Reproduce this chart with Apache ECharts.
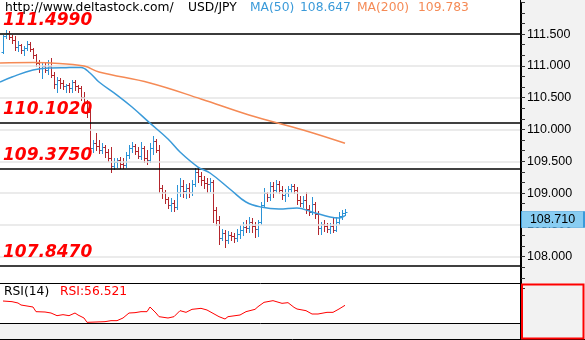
<!DOCTYPE html>
<html><head><meta charset="utf-8">
<script src="https://cdn.jsdelivr.net/npm/echarts@6/dist/echarts.min.js"></script>
<style>html,body{margin:0;padding:0;background:#fff}#c{width:585px;height:340px}</style>
</head><body><div id="c"></div>
<script>
// ---- data ----
const barOpen = [
111.218,111.470,111.517,111.454,111.407,111.297,111.329,111.250,111.281,111.344,
111.266,111.171,111.046,110.967,110.998,110.935,110.998,110.857,110.715,110.778,
110.731,110.684,110.700,110.652,110.747,110.684,110.652,110.511,110.417,110.275,
109.709,109.788,109.740,109.678,109.725,109.646,109.552,109.426,109.489,109.520,
109.457,109.442,109.599,109.709,109.740,109.662,109.583,109.709,109.552,109.520,
109.709,109.819,109.678,109.080,109.017,108.907,108.813,108.844,108.781,109.017,
109.112,109.033,109.080,109.017,109.143,109.332,109.269,109.206,109.159,109.143,
109.174,108.734,108.577,108.294,108.373,108.263,108.341,108.325,108.294,108.357,
108.420,108.467,108.451,108.546,108.483,108.435,108.546,108.813,109.001,108.939,
109.112,109.049,109.143,109.049,108.970,109.001,109.064,109.112,109.049,108.891,
108.844,108.891,108.750,108.703,108.829,108.671,108.451,108.514,108.483,108.435,
108.483,108.420,108.546,108.640,108.687];
const barClose = [
111.470,111.517,111.454,111.407,111.297,111.329,111.250,111.281,111.344,111.266,
111.171,111.046,110.967,110.998,110.935,110.998,110.857,110.715,110.778,110.731,
110.684,110.700,110.652,110.747,110.684,110.652,110.511,110.417,110.275,109.709,
109.788,109.740,109.678,109.725,109.646,109.552,109.426,109.489,109.520,109.457,
109.442,109.599,109.709,109.740,109.662,109.583,109.709,109.552,109.520,109.709,
109.819,109.678,109.080,109.017,108.907,108.813,108.844,108.781,109.017,109.112,
109.033,109.080,109.017,109.143,109.332,109.269,109.206,109.159,109.143,109.174,
108.734,108.577,108.294,108.373,108.263,108.341,108.325,108.294,108.357,108.420,
108.467,108.451,108.546,108.483,108.435,108.546,108.813,109.001,108.939,109.112,
109.049,109.143,109.049,108.970,109.001,109.064,109.112,109.049,108.891,108.844,
108.891,108.750,108.703,108.829,108.671,108.451,108.514,108.483,108.435,108.483,
108.420,108.546,108.640,108.687,108.710];
const barHigh = [
111.486,111.564,111.549,111.486,111.470,111.391,111.344,111.313,111.391,111.376,
111.281,111.187,111.093,111.061,111.046,111.093,111.124,110.904,110.825,110.810,
110.778,110.715,110.731,110.778,110.778,110.700,110.684,110.589,110.464,110.385,
109.835,109.945,109.835,109.788,109.756,109.693,109.725,109.552,109.552,109.568,
109.552,109.646,109.756,109.803,109.772,109.725,109.803,109.740,109.678,109.788,
109.898,109.850,109.756,109.127,109.049,108.939,108.923,108.891,109.127,109.237,
109.206,109.143,109.159,109.206,109.395,109.395,109.332,109.269,109.237,109.237,
109.206,108.781,108.640,108.435,108.420,108.404,108.388,108.373,108.435,108.498,
108.546,108.577,108.624,108.608,108.546,108.577,108.860,109.080,109.017,109.174,
109.174,109.206,109.190,109.112,109.064,109.112,109.143,109.143,109.096,108.954,
108.954,109.017,108.813,108.939,108.860,108.718,108.546,108.577,108.530,108.530,
108.624,108.624,108.703,108.734,108.750];
const barLow = [
111.203,111.439,111.423,111.360,111.250,111.234,111.203,111.171,111.250,111.234,
111.124,110.998,110.904,110.810,110.904,110.872,110.825,110.652,110.589,110.652,
110.637,110.589,110.589,110.589,110.621,110.589,110.464,110.385,110.196,109.630,
109.646,109.678,109.630,109.630,109.568,109.505,109.332,109.379,109.410,109.395,
109.395,109.410,109.552,109.646,109.615,109.552,109.536,109.489,109.457,109.489,
109.615,109.646,109.017,108.923,108.844,108.766,108.718,108.718,108.750,108.954,
108.939,108.923,108.939,108.970,109.112,109.174,109.127,109.080,109.017,109.033,
108.546,108.498,108.200,108.263,108.152,108.215,108.263,108.231,108.247,108.294,
108.341,108.388,108.388,108.388,108.310,108.325,108.514,108.781,108.876,108.891,
108.939,109.017,109.001,108.907,108.876,108.954,109.017,109.001,108.829,108.797,
108.781,108.687,108.656,108.671,108.608,108.357,108.357,108.404,108.388,108.373,
108.388,108.404,108.514,108.593,108.656];

const ma50Idx = [-1,3,10,16,21,26,29,32,38,43,49,55,59,65,69,76,81,86,92,98,103,109,112,114];
const ma50Val = [110.747,110.825,110.935,110.967,110.972,110.975,110.888,110.747,110.542,110.354,110.100,109.850,109.646,109.410,109.316,109.049,108.860,108.781,108.750,108.766,108.703,108.624,108.608,108.647];
const ma200Idx = [-1,10,16,27,32,49,66,82,100,114];
const ma200Val = [111.046,111.053,111.046,110.998,110.904,110.731,110.480,110.228,109.992,109.783];

const rsiIdx = [0,3,5,6,8,10,11,14,16,18,20,22,24,25,27,28,31,34,36,38,40,42,44,46,48,49,51,52,55,57,59,61,63,66,68,70,72,74,75,79,81,84,85,87,90,93,95,97,98,101,103,105,108,110,112,114];
const rsiVal = [63,62,60,57,55.5,54,47,46.5,45,41,42.5,41,45,42,37.5,31,31.5,32,33.5,33.5,37.5,45,45.5,47,47,54,45,39.5,37.5,39.5,48.5,46,50.5,52,49.5,44.5,39.5,36,39.5,42,47,50.5,54.5,61,63.5,59.5,60.5,53.5,51,48.5,43.5,43.5,46,46,51,56.521];

const priceTicks = [108,108.5,109,109.5,110,110.5,111,111.5];
const levels = [111.499,110.102,109.375,107.847];
const levelLabels = ['111.4990','110.1020','109.3750','107.8470'];
const siteText = 'http://www.deltastock.com/';
const symbolText = 'USD/JPY';
const ma50Label = 'MA(50)', ma50Last = '108.647';
const ma200Label = 'MA(200)', ma200Last = '109.783';
const rsiLabel = 'RSI(14)', rsiLast = 'RSI:56.521';
const lastPrice = 108.710;

// ---- chart ----
const X_MIN = -1, X_MAX = 521/3 - 1;
const UP = '#2b93d6', DOWN = '#b3262d';
const MA50C = '#3a9ad9', MA200C = '#f58a55';
const ohlc = barOpen.map((o, i) => [i, o, barClose[i], barLow[i], barHigh[i]]);
const pairs = (a, b) => a.map((v, i) => [v, b[i]]);

function renderBar(params, api) {
  const i = api.value(0);
  const o = api.coord([i, api.value(1)]), c = api.coord([i, api.value(2)]);
  const l = api.coord([i, api.value(3)]), h = api.coord([i, api.value(4)]);
  const x = Math.round(o[0]) + 0.5;
  const color = api.value(2) >= api.value(1) ? UP : DOWN;
  const st = { stroke: color, lineWidth: 1 };
  const oy = Math.round(o[1]) + 0.5, cy = Math.round(c[1]) + 0.5;
  return { type: 'group', children: [
    { type: 'line', shape: { x1: x, y1: Math.round(h[1]), x2: x, y2: Math.round(l[1]) + 1 }, style: st },
    { type: 'line', shape: { x1: x - 2, y1: oy, x2: x, y2: oy }, style: st },
    { type: 'line', shape: { x1: x, y1: cy, x2: x + 2, y2: cy }, style: st }
  ]};
}

const chart = echarts.init(document.getElementById('c'));
const txtFont = { fontFamily: 'DejaVu Sans', fontSize: 12.3 };
function txt(x, y, text, fill) {
  return { type: 'text', x: x, y: y, z: 20, style: Object.assign({ text: text, fill: fill }, txtFont) };
}
chart.setOption({
  animation: false,
  backgroundColor: '#fff',
  grid: [
    { left: 0, top: 2.3, width: 521, height: 286.2 },
    { left: 0, top: 283, width: 521, height: 40 }
  ],
  xAxis: [
    { type: 'value', gridIndex: 0, min: X_MIN, max: X_MAX, show: false },
    { type: 'value', gridIndex: 1, min: X_MIN, max: X_MAX, show: false }
  ],
  yAxis: [
    { type: 'value', gridIndex: 0, position: 'right', min: 107.5, max: 112, interval: 0.5,
      axisLine: { show: true, onZero: false, lineStyle: { color: '#000', width: 1 } },
      axisTick: { show: true, inside: false, length: 4, lineStyle: { color: '#333' } },
      minorTick: { show: true, splitNumber: 3, length: 4, lineStyle: { color: '#333' } },
      splitLine: { show: false },
      axisLabel: { margin: 6, color: '#000', fontFamily: 'Liberation Sans', fontSize: 12.5,
        formatter: v => priceTicks.some(t => Math.abs(t - v) < 1e-6) ? v.toFixed(3) : '' } },
    { type: 'value', gridIndex: 1, min: 30, max: 90, show: false, axisLine: { onZero: false } }
  ],
  graphic: [
    { type: 'rect', z: -10, shape: { x: 521, y: 0, width: 64, height: 340 }, style: { fill: '#f2f2f2' } },
    { type: 'rect', z: -10, shape: { x: 0, y: 323, width: 521, height: 17 }, style: { fill: '#f2f2f2' } },
    { type: 'line', z: 20, shape: { x1: 520.5, y1: 0, x2: 520.5, y2: 340 }, style: { stroke: '#000', lineWidth: 1 } },
    { type: 'line', z: 20, shape: { x1: 0, y1: 283.5, x2: 521, y2: 283.5 }, style: { stroke: '#000', lineWidth: 1 } },
    { type: 'line', z: 20, shape: { x1: 0, y1: 323.5, x2: 521, y2: 323.5 }, style: { stroke: '#000', lineWidth: 1 } },
    { type: 'line', z: 20, shape: { x1: 0, y1: 339.5, x2: 585, y2: 339.5 }, style: { stroke: '#000', lineWidth: 1 } },
    { type: 'rect', z: 21, shape: { x: 522, y: 284.5, width: 61.5, height: 54 }, style: { fill: 'none', stroke: '#ff0000', lineWidth: 2 } },
    txt(5, 2, siteText, '#000'),
    txt(188, 2, symbolText, '#000'),
    txt(250, 2, ma50Label, MA50C),
    txt(300, 2, ma50Last, MA50C),
    txt(357, 2, ma200Label, MA200C),
    txt(418, 2, ma200Last, MA200C),
    txt(4, 286, rsiLabel, '#000'),
    txt(60, 286, rsiLast, '#ff0000')
  ],
  series: [
    { type: 'line', xAxisIndex: 0, yAxisIndex: 0, data: [], z: 1, silent: true,
      markLine: { silent: true, symbol: ['none', 'none'], label: { show: false },
        lineStyle: { color: '#e4e4e4', width: 1.5, type: 'solid' },
        data: priceTicks.map(v => ({ yAxis: v })) } },
    { type: 'line', xAxisIndex: 0, yAxisIndex: 0, data: [], z: 4, silent: true,
      markLine: { silent: true, symbol: ['none', 'none'],
        lineStyle: { color: '#000', width: 1.5, type: 'solid' },
        label: { show: true, position: 'insideStartTop', distance: [3, 5], color: '#ff0000',
          fontFamily: 'DejaVu Sans', fontWeight: 'bold', fontStyle: 'italic', fontSize: 17 },
        data: levels.map((v, k) => ({ yAxis: v, label: { formatter: levelLabels[k] } })) } },
    { type: 'custom', xAxisIndex: 0, yAxisIndex: 0, z: 3, renderItem: renderBar,
      encode: { x: 0, y: [1, 2, 3, 4] }, data: ohlc,
      markPoint: { silent: true, symbol: 'rect', symbolSize: [63, 16], symbolOffset: ['50%', '50%'],
        itemStyle: { color: '#88cdf2', borderColor: '#3a9ad9', borderWidth: 1 },
        label: { show: true, position: 'inside', color: '#000', fontFamily: 'Liberation Sans', fontSize: 12.5,
          formatter: () => lastPrice.toFixed(3) },
        data: [{ coord: [X_MAX, lastPrice], value: lastPrice }] } },
    { type: 'line', xAxisIndex: 0, yAxisIndex: 0, z: 5, data: pairs(ma200Idx, ma200Val),
      smooth: 0.4, symbol: 'none', lineStyle: { color: MA200C, width: 1.5 } },
    { type: 'line', xAxisIndex: 0, yAxisIndex: 0, z: 5, data: pairs(ma50Idx, ma50Val),
      smooth: 0.4, symbol: 'none', lineStyle: { color: MA50C, width: 1.5 } },
    { type: 'line', xAxisIndex: 1, yAxisIndex: 1, z: 5, data: pairs(rsiIdx, rsiVal),
      symbol: 'none', lineStyle: { color: '#ff0000', width: 1 } }
  ]
});
</script></body></html>
